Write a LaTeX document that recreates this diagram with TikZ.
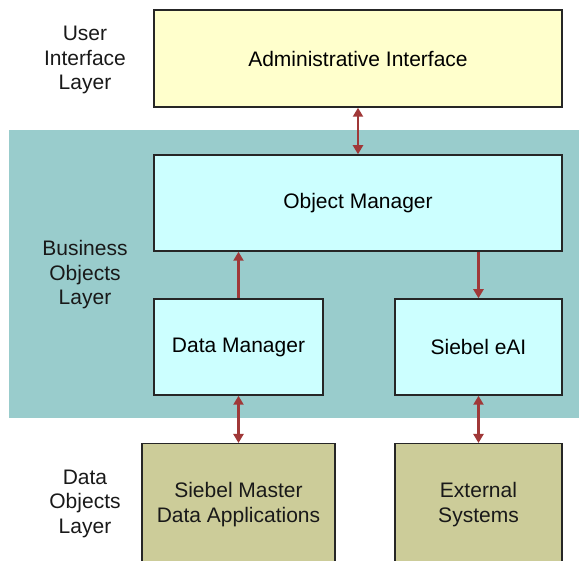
\documentclass[tikz,border=0pt]{standalone}
\usepackage{fontspec}
\setmainfont{Liberation Sans}
\usepackage{xcolor}
\usepackage{tikz}
\usetikzlibrary{positioning,calc,arrows.meta}

\definecolor{uiyellow}{HTML}{FFFFCC}
\definecolor{bocyan}{HTML}{CCFFFF}
\definecolor{boband}{HTML}{99CCCC}
\definecolor{dokhaki}{HTML}{CCCC99}
\definecolor{linkred}{HTML}{A03838}

\begin{document}
\begin{tikzpicture}[x=1pt, y=-1pt,
    font=\fontsize{21}{24.5}\selectfont,
    box/.style={draw=black!85, line width=1.5pt, inner sep=0pt, align=center},
    layer/.style={align=center, text=black!90},
    link/.style={draw=linkred, line width=2.2pt, {Triangle[length=9pt,width=10pt]}-{Triangle[length=9pt,width=10pt]}},
    uplink/.style={draw=linkred, line width=2.2pt, -{Triangle[length=9pt,width=10pt]}}]
    \useasboundingbox (0,0) rectangle (579,561);
    \fill [boband] (9,130) rectangle (590,418); % Business objects band

    % Layer names
    \node [layer] (uil) at (85,60) {User\\Interface\\Layer};
    \node [layer] (bol) at (85,275) {Business\\Objects\\Layer};
    \node [layer] (dol) at (85,503.5) {Data\\Objects\\Layer};

    % Boxes
    \node [box, fill=uiyellow, minimum width=408, minimum height=97] (admin) at (358,58.5) {Administrative Interface};
    \node [box, fill=bocyan, minimum width=408, minimum height=96] (om) at (358,203) {Object Manager};
    \node [box, fill=bocyan, minimum width=169, minimum height=96] (dm) at (238.5,347) {Data Manager};
    \node [box, fill=bocyan, minimum width=167, minimum height=96] (eai) at (478.5,347) {Siebel eAI};
    \node [box, fill=dokhaki, minimum width=193, minimum height=160, anchor=north,
        label={[layer, yshift=19pt]center:Siebel Master\\Data Applications}] (smda) at (238.5,443) {};
    \node [box, fill=dokhaki, minimum width=167, minimum height=160, anchor=north,
        label={[layer, yshift=19pt]center:External\\Systems}] (ext) at (478.5,443) {};

    % Links
    \draw [link] (admin) -- (om);
    \draw [uplink] (dm) -- (dm |- om.south);
    \draw [uplink] (eai |- om.south) -- (eai);
    \draw [link] (dm) -- (smda);
    \draw [link] (eai) -- (ext);
\end{tikzpicture}
\end{document}
